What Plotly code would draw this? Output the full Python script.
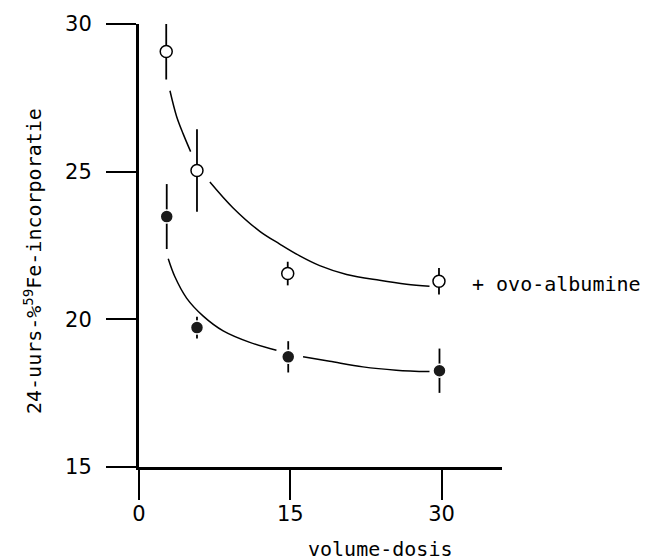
import plotly.graph_objects as go

# --- data ---
dose_open = [2.7, 5.75, 14.75, 29.75]
fe_open = [29.07, 25.04, 21.55, 21.29]
err_open = [0.95, 1.4, 0.4, 0.45]

dose_filled = [2.75, 5.75, 14.8, 29.8]
fe_filled = [23.48, 19.72, 18.73, 18.26]
err_filled = [1.1, 0.37, 0.53, 0.75]

# fitted curves (drawn broken around the markers)
curve_open_a_x = [3.07, 3.73, 4.38, 5.12]
curve_open_a_y = [27.74, 26.87, 26.28, 25.68]
curve_open_b_x = [7.03, 9.31, 11.98, 13.96, 15.94, 17.92, 20.59, 23.86, 26.53, 28.81]
curve_open_b_y = [24.65, 23.78, 22.98, 22.55, 22.15, 21.82, 21.52, 21.32, 21.19, 21.12]

curve_filled_a_x = [2.90, 3.56, 4.72, 6.37, 8.35, 10.99, 13.63]
curve_filled_a_y = [22.05, 21.44, 20.72, 20.11, 19.61, 19.22, 18.95]
curve_filled_b_x = [16.27, 18.91, 22.21, 25.51, 28.81]
curve_filled_b_y = [18.73, 18.58, 18.39, 18.28, 18.23]

x_ticks = [0, 15, 30]
x_ticklabels = ["0", "15", "30"]
y_ticks = [15, 20, 25, 30]

FONT = "DejaVu Sans"
WIDE = "DejaVu Sans Mono"

fig = go.Figure()

for cx, cy in [(curve_open_a_x, curve_open_a_y), (curve_open_b_x, curve_open_b_y),
               (curve_filled_a_x, curve_filled_a_y), (curve_filled_b_x, curve_filled_b_y)]:
    fig.add_trace(go.Scatter(x=cx, y=cy, mode="lines",
                             line=dict(color="black", width=1.5, shape="spline"),
                             showlegend=False, hoverinfo="skip"))

fig.add_trace(go.Scatter(
    x=dose_open, y=fe_open, mode="markers",
    marker=dict(symbol="circle", size=12, color="white",
                line=dict(color="black", width=1.5)),
    error_y=dict(type="data", array=err_open, visible=True,
                 color="black", thickness=1.8, width=0),
    showlegend=False))

fig.add_trace(go.Scatter(
    x=dose_filled, y=fe_filled, mode="markers",
    marker=dict(symbol="circle", size=13, color="#1a1a1a",
                line=dict(color="white", width=1.5)),
    error_y=dict(type="data", array=err_filled, visible=True,
                 color="black", thickness=1.8, width=0),
    showlegend=False))

fig.update_layout(
    width=661, height=560,
    margin=dict(l=139, r=159, t=16, b=93),
    paper_bgcolor="white", plot_bgcolor="white",
    font=dict(family=FONT, color="black"),
    xaxis=dict(range=[0, 36], showgrid=False, zeroline=False,
               showline=True, linecolor="black", linewidth=3,
               ticks="outside", ticklen=30, tickwidth=2, tickcolor="black",
               tickvals=x_ticks, ticktext=x_ticklabels,
               tickfont=dict(size=21, family=FONT), ticklabelstandoff=-4),
    yaxis=dict(range=[15, 30], showgrid=False, zeroline=False,
               showline=True, linecolor="black", linewidth=3,
               ticks="outside", ticklen=30, tickwidth=2, tickcolor="black",
               tickvals=y_ticks,
               tickfont=dict(size=21, family=FONT), ticklabelstandoff=10),
    annotations=[
        dict(text="volume-dosis", xref="paper", yref="paper",
             x=0.664, y=-0.184, xanchor="center", yanchor="middle",
             showarrow=False, font=dict(size=20, family=WIDE)),
        dict(text="24-uurs-%<sup>59</sup>Fe-incorporatie", xref="paper", yref="paper",
             x=-0.292, y=0.465, xanchor="center", yanchor="middle",
             textangle=-90, showarrow=False, font=dict(size=20, family=WIDE)),
        dict(text="+ ovo-albumine", xref="x", yref="y",
             x=32.8, y=21.2, xanchor="left", yanchor="middle",
             showarrow=False, font=dict(size=20, family=WIDE)),
    ],
)

fig.write_html("out.html")
